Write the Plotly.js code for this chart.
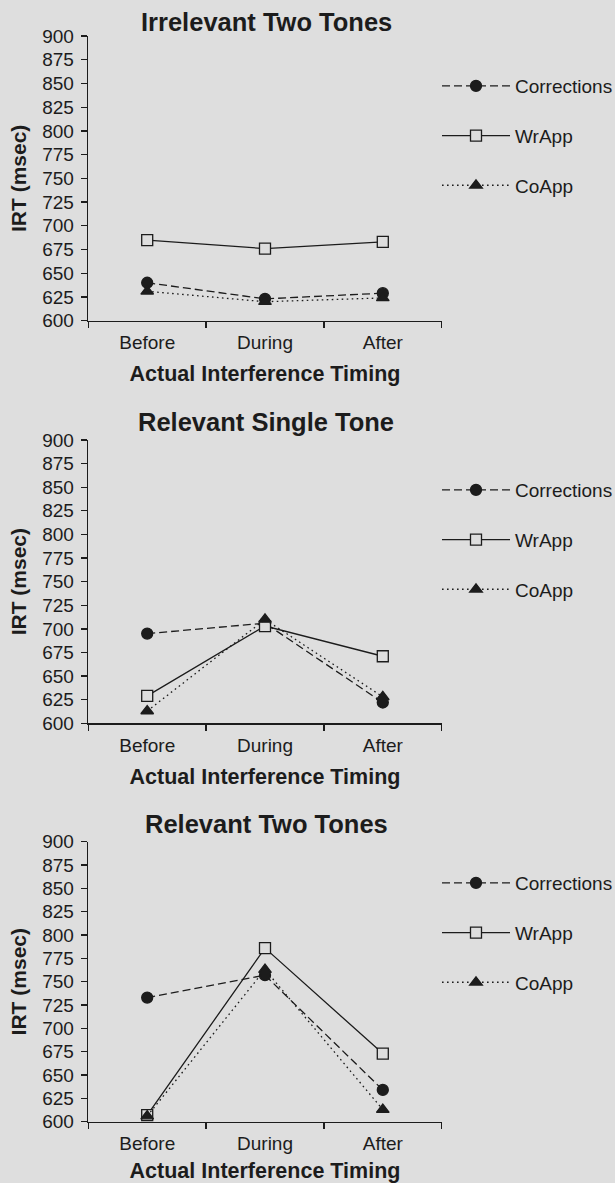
<!DOCTYPE html>
<html>
<head>
<meta charset="utf-8">
<script src="https://cdn.plot.ly/plotly-3.0.1.min.js"></script>
<style>
  html, body { margin: 0; padding: 0; background: #dedede; }
  #chart { width: 615px; height: 1183px; }
</style>
</head>
<body>
<div id="chart"></div>
<script>
// ---- data ----
const timing = ["Before", "During", "After"];
const seriesNames = ["Corrections", "WrApp", "CoApp"];
const panelTitles = ["Irrelevant Two Tones", "Relevant Single Tone", "Relevant Two Tones"];

// Irrelevant Two Tones
const irr2_corrections = [640, 623, 629];
const irr2_wrapp       = [685, 676, 683];
const irr2_coapp       = [631, 620, 624];

// Relevant Single Tone
const rel1_corrections = [695, 706, 622];
const rel1_wrapp       = [629, 703, 671];
const rel1_coapp       = [613, 710, 628];

// Relevant Two Tones
const rel2_corrections = [733, 757, 634];
const rel2_wrapp       = [607, 786, 673];
const rel2_coapp       = [606, 763, 613];

const yTickVals = [600, 625, 650, 675, 700, 725, 750, 775, 800, 825, 850, 875, 900];

// ---- styling ----
const FONT = "Liberation Sans, Arial, Helvetica, sans-serif";
const INK = "#1c1c1c";
const BG = "#dedede";

const panels = [
  [irr2_corrections, irr2_wrapp, irr2_coapp],
  [rel1_corrections, rel1_wrapp, rel1_coapp],
  [rel2_corrections, rel2_wrapp, rel2_coapp]
];

const styles = [
  { dash: "8px,4px", symbol: "circle", fill: INK },
  { dash: "solid", symbol: "square", fill: BG },
  { dash: "1.6px,3.4px", symbol: "triangle-up", fill: INK }
];

// pixel geometry (page is 615 x 1183)
const W = 615, H = 1183;
const xDom = [88.3 / W, 441.7 / W];
const yPix = [[36, 320.7], [440, 723.3], [841.7, 1121.7]]; // [top(900), bottom(600)]
const titleY = [22, 422, 824];
const legendTop = [67, 471, 864];
const xTitleStandoff = [14, 14, 11];

const traces = [];
panels.forEach((vals, p) => {
  const sfx = p === 0 ? "" : String(p + 1);
  vals.forEach((v, s) => {
    traces.push({
      type: "scatter",
      mode: "lines+markers",
      x: timing,
      y: v,
      name: seriesNames[s],
      xaxis: "x" + sfx,
      yaxis: "y" + sfx,
      legend: "legend" + sfx,
      legendgroup: "g" + p + "_" + s,
      line: { color: INK, width: 1.3, dash: styles[s].dash },
      marker: {
        symbol: styles[s].symbol,
        size: 11,
        color: styles[s].fill,
        line: { color: INK, width: 1.3 }
      },
      cliponaxis: false,
      hoverinfo: "skip"
    });
  });
});

const layout = {
  width: W,
  height: H,
  margin: { l: 0, r: 0, t: 0, b: 0, autoexpand: false },
  paper_bgcolor: BG,
  plot_bgcolor: BG,
  font: { family: FONT, size: 19, color: INK },
  annotations: [],
  showlegend: true
};

for (let p = 0; p < 3; p++) {
  const sfx = p === 0 ? "" : String(p + 1);
  const [top, bot] = yPix[p];
  layout["xaxis" + sfx] = {
    domain: xDom,
    anchor: "y" + sfx,
    type: "category",
    categoryorder: "array",
    categoryarray: timing,
    range: [-0.5, 2.5],
    tickson: "boundaries",
    ticks: "outside",
    ticklen: 6,
    tickwidth: 1.3,
    tickcolor: INK,
    ticklabelstandoff: 4,
    showline: true,
    linecolor: INK,
    linewidth: 1.6,
    showgrid: false,
    zeroline: false,
    fixedrange: true,
    tickfont: { family: FONT, size: 19, color: INK },
    title: {
      text: "<b>Actual Interference Timing</b>",
      font: { family: FONT, size: 21.5, color: INK },
      standoff: xTitleStandoff[p]
    }
  };
  layout["yaxis" + sfx] = {
    domain: [1 - bot / H, 1 - top / H],
    anchor: "x" + sfx,
    range: [600, 900],
    tickvals: yTickVals,
    ticktext: yTickVals.map(String),
    ticks: "outside",
    ticklen: 6,
    tickwidth: 1.3,
    tickcolor: INK,
    ticklabelstandoff: 3,
    showline: true,
    linecolor: INK,
    linewidth: 1.6,
    showgrid: false,
    zeroline: false,
    fixedrange: true,
    tickfont: { family: FONT, size: 19, color: INK },
    title: {
      text: "<b>IRT (msec)</b>",
      font: { family: FONT, size: 21, color: INK },
      standoff: 10
    }
  };
  layout["legend" + sfx] = {
    x: 437 / W,
    xanchor: "left",
    y: 1 - legendTop[p] / H,
    yanchor: "top",
    bgcolor: "rgba(0,0,0,0)",
    borderwidth: 0,
    itemwidth: 68,
    tracegroupgap: 22,
    font: { family: FONT, size: 19, color: INK },
    itemclick: false,
    itemdoubleclick: false
  };
  layout.annotations.push({
    text: "<b>" + panelTitles[p] + "</b>",
    xref: "paper",
    yref: "paper",
    x: 266 / W,
    y: 1 - titleY[p] / H,
    xanchor: "center",
    yanchor: "middle",
    showarrow: false,
    font: { family: FONT, size: 25.5, color: INK }
  });
}

Plotly.newPlot("chart", traces, layout, { staticPlot: true, displayModeBar: false });
</script>
</body>
</html>
